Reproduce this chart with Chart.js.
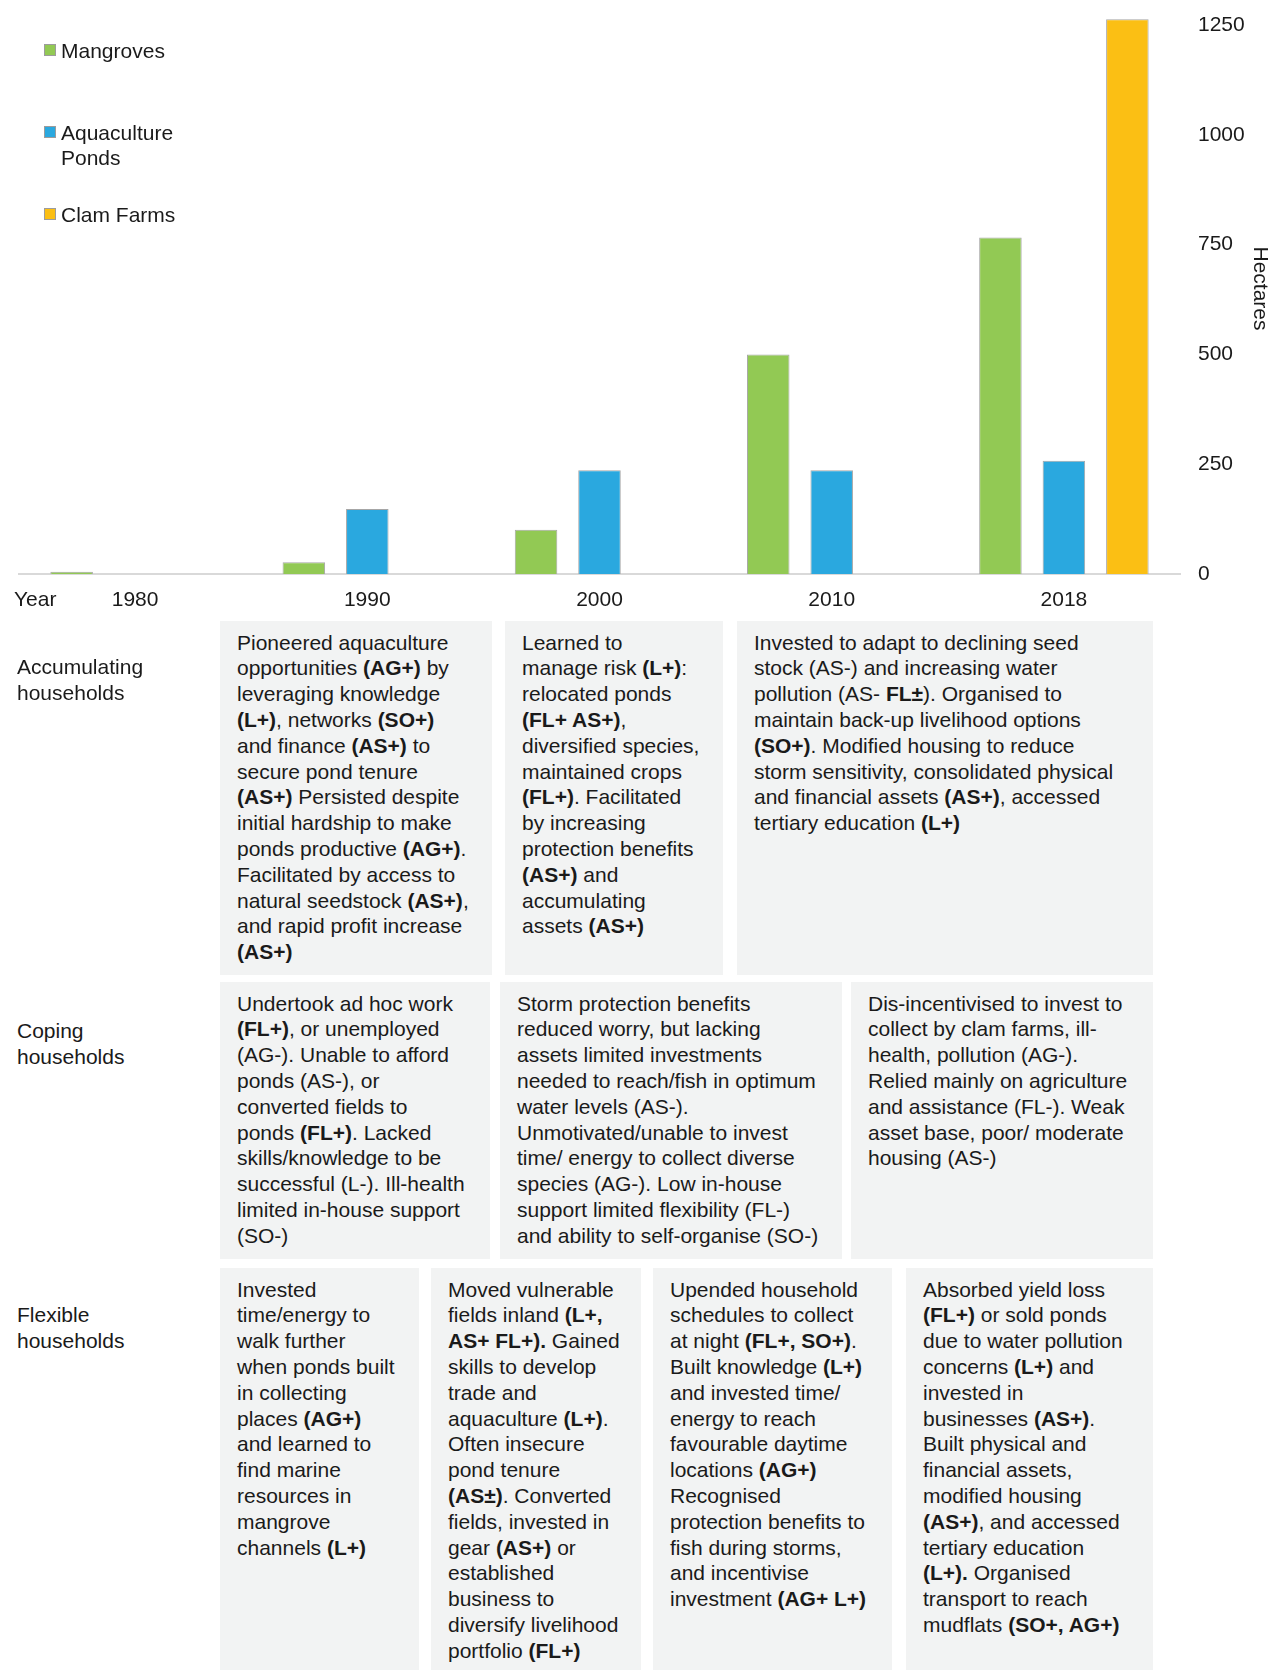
<!DOCTYPE html>
<html>
<head>
<meta charset="utf-8">
<title>Mangroves, aquaculture ponds and clam farms</title>
<script src="https://cdn.jsdelivr.net/npm/chart.js@4.4.1/dist/chart.umd.min.js"></script>
<style>
    html, body { margin: 0; padding: 0; background: #fff; }
    body {
        width: 1272px; height: 1670px; position: relative; overflow: hidden;
        font-family: 'Liberation Sans', Arial, sans-serif; font-size: 21px; color: #1a1a1a;
    }
    #chartBox { position: absolute; left: 0; top: 0; width: 1272px; height: 612px; }
    #legend { position: absolute; left: 0; top: 0; }
    .legend-item { position: absolute; left: 61px; width: 130px; line-height: 25px; }
    .legend-item .sw {
        position: absolute; left: -17px; top: 6px; width: 10px; height: 10px;
        border: 1px solid #9c9c9c;
    }
    .year { position: absolute; left: 14px; top: 586px; line-height: 25.8px; }
    .label { position: absolute; left: 17px; line-height: 25.7px; }
    .cell {
        position: absolute; background: #f2f3f3; box-sizing: border-box;
        padding: 8.6px 0 0 17px; line-height: 25.8px; white-space: nowrap;
    }
    .r1 { top: 621px; height: 354px; }
    .r2 { top: 982px; height: 277px; }
    .r3 { top: 1268px; height: 410px; }
</style>
</head>
<body>

<div id="chartBox"><canvas id="areaChart"></canvas></div>
<div id="legend"></div>
<div class="year">Year</div>

<!-- ========== Accumulating households ========== -->
<div class="label" style="top:654px">Accumulating<br>households</div>
<div class="cell r1" style="left:220px;width:272px">
Pioneered aquaculture<br>
opportunities <b>(AG+)</b> by<br>
leveraging knowledge<br>
<b>(L+)</b>, networks <b>(SO+)</b><br>
and finance <b>(AS+)</b> to<br>
secure pond tenure<br>
<b>(AS+)</b> Persisted despite<br>
initial hardship to make<br>
ponds productive <b>(AG+)</b>.<br>
Facilitated by access to<br>
natural seedstock <b>(AS+)</b>,<br>
and rapid profit increase<br>
<b>(AS+)</b>
</div>
<div class="cell r1" style="left:505px;width:218px">
Learned to<br>
manage risk <b>(L+)</b>:<br>
relocated ponds<br>
<b>(FL+ AS+)</b>,<br>
diversified species,<br>
maintained crops<br>
<b>(FL+)</b>. Facilitated<br>
by increasing<br>
protection benefits<br>
<b>(AS+)</b> and<br>
accumulating<br>
assets <b>(AS+)</b>
</div>
<div class="cell r1" style="left:737px;width:416px">
Invested to adapt to declining seed<br>
stock (AS-) and increasing water<br>
pollution (AS- <b>FL±</b>). Organised to<br>
maintain back-up livelihood options<br>
<b>(SO+)</b>. Modified housing to reduce<br>
storm sensitivity, consolidated physical<br>
and financial assets <b>(AS+)</b>, accessed<br>
tertiary education <b>(L+)</b>
</div>

<!-- ========== Coping households ========== -->
<div class="label" style="top:1018px">Coping<br>households</div>
<div class="cell r2" style="left:220px;width:270px">
Undertook ad hoc work<br>
<b>(FL+)</b>, or unemployed<br>
(AG-). Unable to afford<br>
ponds (AS-), or<br>
converted fields to<br>
ponds <b>(FL+)</b>. Lacked<br>
skills/knowledge to be<br>
successful (L-). Ill-health<br>
limited in-house support<br>
(SO-)
</div>
<div class="cell r2" style="left:500px;width:342px">
Storm protection benefits<br>
reduced worry, but lacking<br>
assets limited investments<br>
needed to reach/fish in optimum<br>
water levels (AS-).<br>
Unmotivated/unable to invest<br>
time/ energy to collect diverse<br>
species (AG-). Low in-house<br>
support limited flexibility (FL-)<br>
and ability to self-organise (SO-)
</div>
<div class="cell r2" style="left:851px;width:302px">
Dis-incentivised to invest to<br>
collect by clam farms, ill-<br>
health, pollution (AG-).<br>
Relied mainly on agriculture<br>
and assistance (FL-). Weak<br>
asset base, poor/ moderate<br>
housing (AS-)
</div>

<!-- ========== Flexible households ========== -->
<div class="label" style="top:1302px">Flexible<br>households</div>
<div class="cell r3" style="left:220px;width:199px">
Invested<br>
time/energy to<br>
walk further<br>
when ponds built<br>
in collecting<br>
places <b>(AG+)</b><br>
and learned to<br>
find marine<br>
resources in<br>
mangrove<br>
channels <b>(L+)</b>
</div>
<div class="cell r3" style="left:431px;width:210px">
Moved vulnerable<br>
fields inland <b>(L+,</b><br>
<b>AS+ FL+).</b> Gained<br>
skills to develop<br>
trade and<br>
aquaculture <b>(L+)</b>.<br>
Often insecure<br>
pond tenure<br>
<b>(AS±)</b>. Converted<br>
fields, invested in<br>
gear <b>(AS+)</b> or<br>
established<br>
business to<br>
diversify livelihood<br>
portfolio <b>(FL+)</b>
</div>
<div class="cell r3" style="left:653px;width:239px">
Upended household<br>
schedules to collect<br>
at night <b>(FL+, SO+)</b>.<br>
Built knowledge <b>(L+)</b><br>
and invested time/<br>
energy to reach<br>
favourable daytime<br>
locations <b>(AG+)</b><br>
Recognised<br>
protection benefits to<br>
fish during storms,<br>
and incentivise<br>
investment <b>(AG+ L+)</b>
</div>
<div class="cell r3" style="left:906px;width:247px">
Absorbed yield loss<br>
<b>(FL+)</b> or sold ponds<br>
due to water pollution<br>
concerns <b>(L+)</b> and<br>
invested in<br>
businesses <b>(AS+)</b>.<br>
Built physical and<br>
financial assets,<br>
modified housing<br>
<b>(AS+)</b>, and accessed<br>
tertiary education<br>
<b>(L+).</b> Organised<br>
transport to reach<br>
mudflats <b>(SO+, AG+)</b>
</div>

<script>
// ========== Data (hectares) ==========
const years = ['1980', '1990', '2000', '2010', '2018'];
const mangroves = [5, 27, 101, 500, 766];
const aquaculturePonds = [null, 148, 236, 236, 258];
const clamFarms = [null, null, null, null, 1263];
const yTicks = [0, 250, 500, 750, 1000, 1250];

const seriesNames = ['Mangroves', 'Aquaculture Ponds', 'Clam Farms'];
const seriesColors = ['#92c954', '#2aa8df', '#fbbf14'];

const FONT = "'Liberation Sans', Arial, sans-serif";
const TEXT = '#1a1a1a';

// ========== Chart ==========
const chart = new Chart(document.getElementById('areaChart'), {
    type: 'bar',
    data: {
        labels: years,
        datasets: [mangroves, aquaculturePonds, clamFarms].map((values, i) => ({
            label: seriesNames[i],
            data: values,
            backgroundColor: seriesColors[i],
            borderColor: '#a6a6a6',
            borderWidth: 1,
            categoryPercentage: 0.82,
            barPercentage: 0.67,
        }))
    },
    options: {
        responsive: true,
        maintainAspectRatio: false,
        animation: false,
        layout: { padding: { left: 19, top: 3, right: 0, bottom: 0 } },
        plugins: {
            legend: { display: false },
            tooltip: { enabled: false }
        },
        scales: {
            x: {
                grid: { display: false, drawTicks: false },
                border: { display: true, color: '#d9d9d9', width: 2 },
                ticks: { padding: 14, color: TEXT, font: { family: FONT, size: 21 } },
                afterFit: axis => {
                    axis.height = 38;
                    axis.paddingLeft = 0;
                    axis.paddingRight = 0;
                }
            },
            y: {
                position: 'right',
                min: 0,
                max: 1300,
                grid: { display: false, drawTicks: false },
                border: { display: false },
                ticks: {
                    padding: 18,
                    color: TEXT,
                    font: { family: FONT, size: 21 },
                    callback: v => String(v)
                },
                afterBuildTicks: axis => { axis.ticks = yTicks.map(v => ({ value: v })); },
                afterFit: axis => {
                    axis.width = 92;
                    axis.paddingTop = 0;
                    axis.paddingBottom = 0;
                },
                title: {
                    display: true,
                    text: 'Hectares',
                    padding: 0,
                    color: TEXT,
                    font: { family: FONT, size: 21 }
                }
            }
        }
    }
});

// ========== HTML legend (vertical, top left) ==========
const legendEl = document.getElementById('legend');
chart.data.datasets.forEach((ds, i) => {
    const item = document.createElement('div');
    item.className = 'legend-item';
    item.style.top = (38 + i * 82) + 'px';
    item.innerHTML = `<span class="sw" style="background:${ds.backgroundColor}"></span>${ds.label}`;
    legendEl.appendChild(item);
});
</script>
</body>
</html>
